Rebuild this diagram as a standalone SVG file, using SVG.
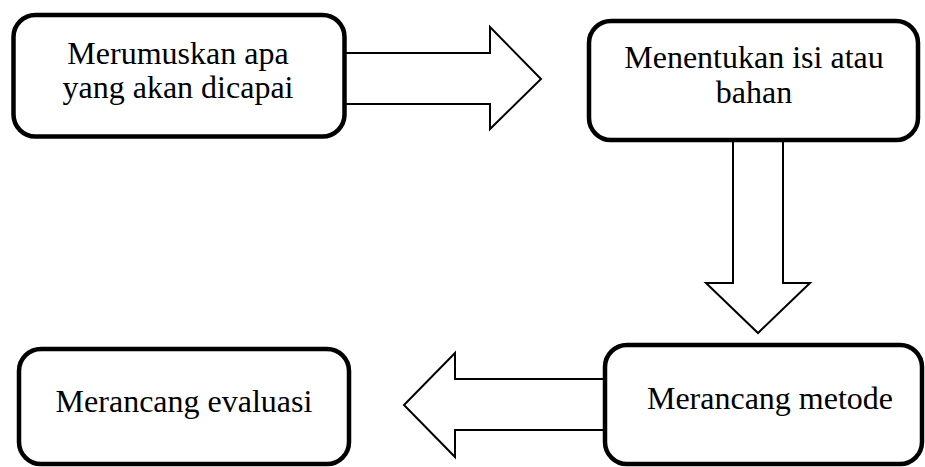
<svg xmlns="http://www.w3.org/2000/svg" width="925" height="467" viewBox="0 0 925 467">
<style>
.box{fill:#fff;stroke:#000;stroke-width:4.5}
.arr{fill:#fff;stroke:#000;stroke-width:2;stroke-linejoin:miter}
.t{font-family:"Liberation Serif","Times New Roman","DejaVu Serif",serif;font-size:32px;fill:#000;text-anchor:middle}
</style>
<rect width="925" height="467" fill="#fff"/>
<g id="connectors">
<path class="arr" d="M345,53 H490 V27 L541,79 L490,129 V104 H345"/>
<path class="arr" d="M733,142 V283 H706 L758,333 L810,283 H783 V142"/>
<path class="arr" d="M605,379 H455 V353 L404,405 L455,457 V430 H605"/>
</g>
<g id="node1">
<rect class="box" x="13.5" y="15" width="331" height="121.5" rx="22"/>
<text class="t" x="178" y="64">Merumuskan apa</text>
<text class="t" x="178" y="98">yang akan dicapai</text>
</g>
<g id="node2">
<rect class="box" x="589" y="21" width="329" height="119" rx="22"/>
<text class="t" x="754" y="68">Menentukan isi atau</text>
<text class="t" x="754" y="103">bahan</text>
</g>
<g id="node3">
<rect class="box" x="605" y="345" width="317" height="119" rx="22"/>
<text class="t" x="770" y="409">Merancang metode</text>
</g>
<g id="node4">
<rect class="box" x="19" y="349" width="330" height="115" rx="22"/>
<text class="t" x="184" y="412">Merancang evaluasi</text>
</g>
</svg>
